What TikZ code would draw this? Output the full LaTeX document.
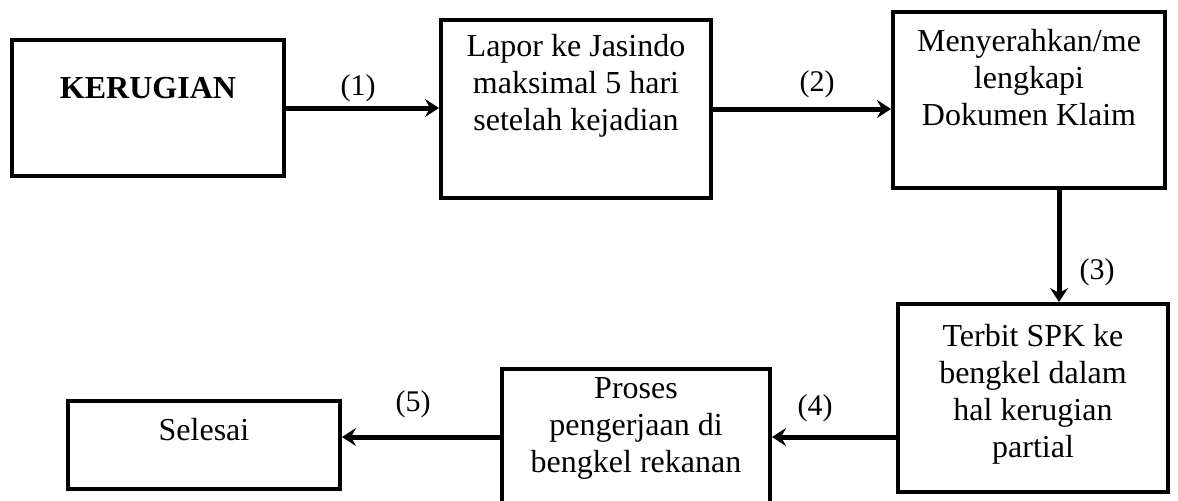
\documentclass[tikz,border=0pt]{standalone}
\usepackage{fontspec}
\setmainfont{Liberation Serif}
\usetikzlibrary{arrows.meta}

\begin{document}
\begin{tikzpicture}[x=0.5pt, y=-0.5pt,
		box/.style={draw, line width=2pt, rectangle, inner sep=0pt},
		txt/.style={align=center, font=\fontsize{16}{18.5}\selectfont},
		num/.style={font=\fontsize{15}{17}\selectfont},
		arr/.style={-{Stealth[length=7pt, width=9pt, inset=2.5pt]}, line width=2.5pt}]
		\useasboundingbox (0,0) rectangle (1178,500);
		% Define nodes
		\node[box, minimum width=136pt, minimum height=68pt] (kerugian) at (148,108) {};
		\node[txt, font=\fontsize{16}{18.5}\selectfont\bfseries] (kerugian-t) at (148,88) {KERUGIAN};
		\node[box, minimum width=135pt, minimum height=89pt] (lapor) at (576,109) {};
		\node[txt] (lapor-t) at (576,86) {Lapor ke Jasindo\\maksimal 5 hari\\setelah kejadian};
		\node[box, minimum width=136pt, minimum height=88pt] (dokumen) at (1029,100) {};
		\node[txt] (dokumen-t) at (1029,78) {Menyerahkan/me\\lengkapi\\Dokumen Klaim};
		\node[box, minimum width=135pt, minimum height=94pt] (spk) at (1033,398) {};
		\node[txt] (spk-t) at (1033,394) {Terbit SPK ke\\bengkel dalam\\hal kerugian\\partial};
		\node[box, minimum width=134pt, minimum height=68pt] (proses) at (636,437) {};
		\node[txt] (proses-t) at (636,428) {Proses\\pengerjaan di\\bengkel rekanan};
		\node[box, minimum width=136pt, minimum height=44pt] (selesai) at (204,445) {};
		\node[txt] (selesai-t) at (204,430) {Selesai};
		
		% Draw edges
		\draw[arr] (kerugian.east) -- (kerugian.east -| lapor.west);
		\draw[arr] (lapor.east) -- (lapor.east -| dokumen.west);
		\draw[arr] ([xshift=15pt]dokumen.south) -- ([xshift=15pt]dokumen.south |- spk.north);
		\draw[arr] (spk.west |- proses.east) -- (proses.east);
		\draw[arr] (proses.west) -- (proses.west -| selesai.east);
		
		% Step numbers
		\node[num] (n1) at (358,88) {(1)}; \node[num] (n2) at (817,84) {(2)};
		\node[num] (n3) at (1097,272) {(3)}; \node[num] (n4) at (815,408) {(4)};
		\node[num] (n5) at (413,404) {(5)};
	\end{tikzpicture}
\end{document}
